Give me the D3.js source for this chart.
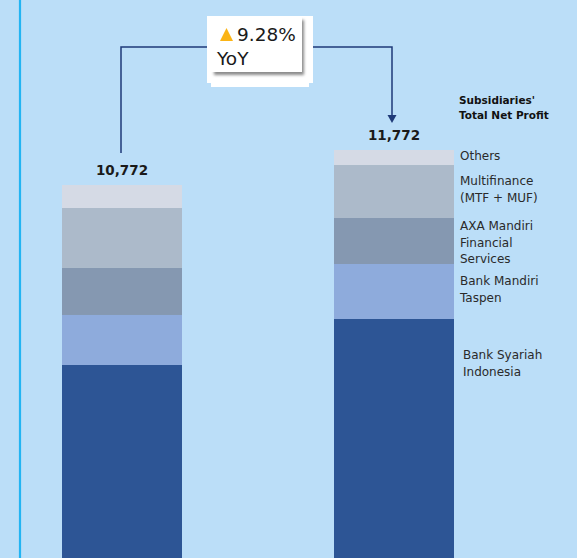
<!DOCTYPE html>
<html>
<head>
<meta charset="utf-8">
<script src="https://cdn.jsdelivr.net/npm/d3@7"></script>
<style>
  html, body { margin: 0; padding: 0; background: #bbdef8; overflow: hidden; }
  svg { display: block; }
</style>
</head>
<body>
<svg id="chart" width="577" height="558"></svg>
<script>
// ---- data ----
const periods = ["Previous", "Current"];
const totals = [10772, 11772];
const segments = ["Bank Syariah Indonesia", "Bank Mandiri Taspen", "AXA Mandiri Financial Services", "Multifinance (MTF + MUF)", "Others"];
const bsi = [5629, 6944];
const taspen = [1429, 1571];
const axa = [1343, 1314];
const multifinance = [1714, 1514];
const others = [657, 429];
const segColors = ["#2d5595", "#8eabdc", "#8598b1", "#acbaca", "#d5dae5"];
const legendLines = [["Bank Syariah", "Indonesia"], ["Bank Mandiri", "Taspen"], ["AXA Mandiri", "Financial", "Services"], ["Multifinance", "(MTF + MUF)"], ["Others"]];
const legendTitle = ["Subsidiaries'", "Total Net Profit"];
const growthLabel = "9.28%";
const growthSub = "YoY";

const seriesValues = [bsi, taspen, axa, multifinance, others];
const table = periods.map((p, i) => {
  const row = { period: p };
  segments.forEach((s, j) => row[s] = seriesValues[j][i]);
  return row;
});

const svg = d3.select("#chart");
const font = "'DejaVu Sans', sans-serif";

// left accent line
svg.append("line").attr("x1", 20).attr("x2", 20).attr("y1", 0).attr("y2", 558)
  .attr("stroke", "#21b4f3").attr("stroke-width", 2.2);

const xPos = d3.scalePoint().domain(periods).range([62, 334]);
const barW = 120;
const y = d3.scaleLinear().domain([0, 11772]).range([562, 150]);

const stack = d3.stack().keys(segments)(table);

svg.append("g").selectAll("g").data(stack).join("g")
  .attr("fill", (d, i) => segColors[i])
  .selectAll("rect").data(d => d).join("rect")
  .attr("x", d => xPos(d.data.period))
  .attr("width", barW)
  .attr("y", d => y(d[1]))
  .attr("height", d => y(d[0]) - y(d[1]));

// totals
svg.append("g").selectAll("text").data(periods).join("text")
  .attr("x", (d) => xPos(d) + barW / 2)
  .attr("y", (d, i) => y(totals[i]) - 10)
  .attr("text-anchor", "middle")
  .attr("font-family", font).attr("font-weight", "bold").attr("font-size", 13.5)
  .attr("fill", "#1a1a1a")
  .text((d, i) => d3.format(",")(totals[i]));

// connector
const navy = "#1f3a78";
const cx1 = xPos(periods[0]) + barW / 2 - 1;
const cx2 = xPos(periods[1]) + barW / 2 - 2;
const topY = 47;
svg.append("path")
  .attr("d", `M${cx1},${y(totals[0]) - 32} V${topY} H${cx2} V${y(totals[1]) - 35}`)
  .attr("fill", "none").attr("stroke", navy).attr("stroke-width", 1.5);
svg.append("path")
  .attr("d", `M${cx2 - 4.5},${y(totals[1]) - 35} L${cx2 + 4.5},${y(totals[1]) - 35} L${cx2},${y(totals[1]) - 27} Z`)
  .attr("fill", navy);

// callout box
const defs = svg.append("defs");
const f = defs.append("filter").attr("id", "sh").attr("x", "-20%").attr("y", "-20%").attr("width", "150%").attr("height", "150%");
f.append("feGaussianBlur").attr("stdDeviation", 1.5);
svg.append("rect").attr("x", 207).attr("y", 16).attr("width", 106).attr("height", 67).attr("fill", "#ffffff");
svg.append("rect").attr("x", 211).attr("y", 80).attr("width", 98).attr("height", 7).attr("fill", "#ffffff");
svg.append("rect").attr("x", 214).attr("y", 20).attr("width", 90).attr("height", 55).attr("fill", "#8a8a8a").attr("filter", "url(#sh)");
svg.append("rect").attr("x", 211).attr("y", 16).attr("width", 91).attr("height", 56).attr("fill", "#ffffff");
svg.append("path").attr("d", "M220,41 L226.5,28 L233,41 Z").attr("fill", "#fbb415");
svg.append("text").attr("x", 237).attr("y", 41).attr("font-family", font).attr("font-size", 18.5)
  .attr("fill", "#1a1a1a").text(growthLabel);
svg.append("text").attr("x", 217).attr("y", 65).attr("font-family", font).attr("font-size", 18.5)
  .attr("fill", "#1a1a1a").text(growthSub);

// legend title
svg.append("g").selectAll("text").data(legendTitle).join("text")
  .attr("x", 459).attr("y", (d, i) => 104 + i * 15)
  .attr("font-family", font).attr("font-weight", "bold").attr("font-size", 10.5)
  .attr("fill", "#111").text(d => d);

// legend labels
const legendBase = [359, 285, 230, 185, 160];
const lg = svg.append("g");
legendLines.forEach((lines, i) => {
  lines.forEach((ln, k) => {
    lg.append("text").attr("x", i === 0 ? 463 : 460).attr("y", legendBase[i] + k * 16.5)
      .attr("font-family", font).attr("font-size", 12).attr("fill", "#2a2a2a").text(ln);
  });
});
</script>
</body>
</html>
